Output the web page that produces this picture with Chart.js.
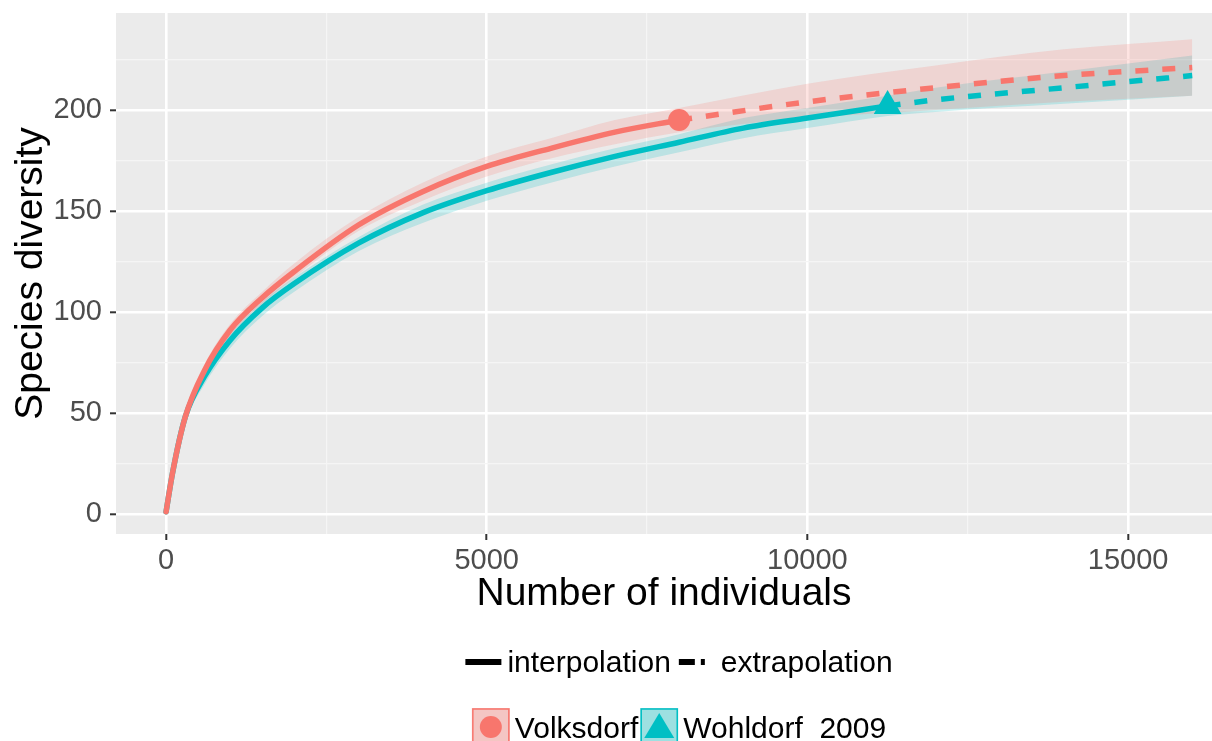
<!DOCTYPE html>
<html>
<head>
<meta charset="utf-8">
<script src="https://cdn.jsdelivr.net/npm/chart.js@4.4.0/dist/chart.umd.min.js"></script>
<style>
  html, body { margin: 0; padding: 0; background: #fff; }
  #chart-container { width: 1212px; height: 741px; }
</style>
</head>
<body>
<div id="chart-container"><canvas id="rarefaction" width="1212" height="741"></canvas></div>
<script>
// Volksdorf: rarefied (interpolated) and extrapolated species counts
const volksInterpN = [1, 100, 300, 600, 1000, 1500, 2000, 3000, 4000, 5000, 6000, 7000, 8000];
const volksInterpS = [1, 20, 48, 71, 91, 107, 120, 143, 159.5, 172, 181, 189, 195];
const volksExtrapN = [8000, 10000, 12000, 14000, 16000];
const volksExtrapS = [195, 204, 211, 217, 221];
const volksCiN = [1, 100, 300, 600, 1000, 1500, 2000, 3000, 4000, 5000, 6000, 7000, 8000, 10000, 12000, 14000, 16000];
const volksLower = [1, 18, 45, 68, 88, 104, 117, 140, 155, 167, 176, 183, 189, 196, 200, 204, 207];
const volksUpper = [1, 22, 51, 74, 94, 110, 124, 147, 164, 177, 186, 195, 201, 213, 222, 230, 235];

// Wohldorf 2009
const wohlInterpN = [1, 100, 300, 600, 1000, 1500, 2000, 3000, 4000, 5000, 6000, 7000, 8000, 9000, 10000, 11250];
const wohlInterpS = [1, 20, 48, 68, 86, 102, 114, 134, 149, 160, 169, 177, 184, 191, 196, 202];
const wohlExtrapN = [11250, 12000, 14000, 16000];
const wohlExtrapS = [202, 205, 211, 217];
const wohlCiN = [1, 100, 300, 600, 1000, 1500, 2000, 3000, 4000, 5000, 6000, 7000, 8000, 9000, 10000, 11250, 12000, 14000, 16000];
const wohlLower = [1, 18, 45, 64, 82, 98, 110, 130, 144, 155, 164, 172, 179, 186, 191, 197, 199, 203, 207];
const wohlUpper = [1, 22, 51, 71, 89, 105, 117, 137, 153, 164, 173, 181, 188, 196, 201, 207, 211, 219, 227];

// observed samples (reference points)
const seriesNames = ['Volksdorf', 'Wohldorf_2009'];
const observedN = [8000, 11250];
const observedS = [195, 202];

const methodLabels = ['interpolation', 'extrapolation'];

const xMajorTicks = [0, 5000, 10000, 15000];
const xMinorTicks = [2500, 7500, 12500];
const yMajorTicks = [0, 50, 100, 150, 200];
const yMinorTicks = [25, 75, 125, 175, 225];

const RED = '#F8766D';
const TEAL = '#00BFC4';
const FONT = "'Liberation Sans', Arial, sans-serif";

const toPoints = (xs, ys) => xs.map((x, i) => ({ x: x, y: ys[i] }));

const gridTicks = (major, minor) => major.concat(minor).sort((a, b) => a - b).map(v => ({ value: v }));

// grey ggplot panel
const panelBackground = {
    id: 'panelBackground',
    beforeDraw(chart) {
        const { ctx, chartArea } = chart;
        ctx.save();
        ctx.fillStyle = '#EBEBEB';
        ctx.fillRect(chartArea.left, chartArea.top, chartArea.right - chartArea.left, chartArea.bottom - chartArea.top);
        ctx.restore();
    }
};

// two-row legend below the x title, centred on the panel like ggplot does
const bottomLegend = {
    id: 'bottomLegend',
    afterDraw(chart) {
        const ctx = chart.ctx;
        const centerX = 679;
        ctx.save();
        ctx.font = '30px ' + FONT;
        ctx.fillStyle = '#000';
        ctx.textBaseline = 'alphabetic';

        // row 1: line types
        const keyW = 36, gap = 6, itemGap = 8;
        const w1 = ctx.measureText(methodLabels[0]).width;
        const w2 = ctx.measureText(methodLabels[1]).width;
        let x = centerX - (keyW * 2 + gap * 2 + itemGap + w1 + w2) / 2;
        const row1 = 672, lineY = 662;
        ctx.strokeStyle = '#000';
        ctx.lineWidth = 6;
        ctx.beginPath();
        ctx.moveTo(x, lineY);
        ctx.lineTo(x + keyW, lineY);
        ctx.stroke();
        x += keyW + gap;
        ctx.fillText(methodLabels[0], x, row1);
        x += w1 + itemGap;
        ctx.setLineDash([16, 6]);
        ctx.beginPath();
        ctx.moveTo(x, lineY);
        ctx.lineTo(x + keyW - 10, lineY);
        ctx.stroke();
        ctx.setLineDash([]);
        x += keyW + gap;
        ctx.fillText(methodLabels[1], x, row1);

        // row 2: sites
        const box = 38, row2 = 738, boxTop = 708;
        const n1 = ctx.measureText(seriesNames[0]).width;
        const n2 = ctx.measureText(seriesNames[1]).width;
        x = centerX - (box * 2 + 5 * 2 + n1 + n2 + 2) / 2;
        const keys = [
            { color: RED, fill: 'rgba(248,118,109,0.35)', shape: 'circle' },
            { color: TEAL, fill: 'rgba(0,191,196,0.35)', shape: 'triangle' }
        ];
        keys.forEach((k, i) => {
            ctx.fillStyle = '#F2F2F2';
            ctx.fillRect(x, boxTop, box, box);
            ctx.fillStyle = k.fill;
            ctx.fillRect(x, boxTop, box, box);
            ctx.strokeStyle = k.color;
            ctx.lineWidth = 1.5;
            ctx.strokeRect(x + 1, boxTop + 1, box - 2, box - 2);
            ctx.fillStyle = k.color;
            const cx = x + box / 2, cy = boxTop + box / 2;
            ctx.beginPath();
            if (k.shape === 'circle') {
                ctx.arc(cx, cy, 11, 0, Math.PI * 2);
            } else {
                ctx.moveTo(cx, cy - 14);
                ctx.lineTo(cx + 15, cy + 11);
                ctx.lineTo(cx - 15, cy + 11);
                ctx.closePath();
            }
            ctx.fill();
            x += box + 5;
            ctx.fillStyle = '#000';
            ctx.fillText(seriesNames[i], x, row2);
            x += (i === 0 ? n1 : n2) + 2;
        });
        ctx.restore();
    }
};

const ctx = document.getElementById('rarefaction').getContext('2d');

const ribbon = (data, color, fill) => ({
    data: data,
    borderWidth: 0,
    pointRadius: 0,
    backgroundColor: color,
    fill: fill,
    order: 10,
    cubicInterpolationMode: 'monotone'
});

const curve = (data, color, dashed) => ({
    data: data,
    borderColor: color,
    borderWidth: 5.5,
    borderDash: dashed ? [13, 14] : [],
    borderCapStyle: dashed ? 'butt' : 'round',
    pointRadius: 0,
    fill: false,
    order: 2,
    cubicInterpolationMode: 'monotone'
});

const isMajor = (list, v) => list.indexOf(v) !== -1;

const config = {
    type: 'line',
    data: {
        datasets: [
            ribbon(toPoints(volksCiN, volksUpper), 'rgba(248,118,109,0.2)', '+1'),
            ribbon(toPoints(volksCiN, volksLower), 'rgba(0,0,0,0)', false),
            ribbon(toPoints(wohlCiN, wohlUpper), 'rgba(0,191,196,0.2)', '+1'),
            ribbon(toPoints(wohlCiN, wohlLower), 'rgba(0,0,0,0)', false),
            curve(toPoints(volksInterpN, volksInterpS), RED, false),
            curve(toPoints(volksExtrapN, volksExtrapS), RED, true),
            curve(toPoints(wohlInterpN, wohlInterpS), TEAL, false),
            curve(toPoints(wohlExtrapN, wohlExtrapS), TEAL, true),
            {
                data: [{ x: observedN[0], y: observedS[0] }],
                pointStyle: 'circle',
                pointRadius: 11,
                backgroundColor: RED,
                borderColor: RED,
                borderWidth: 0,
                showLine: false,
                order: 1
            },
            {
                data: [{ x: observedN[1], y: observedS[1] }],
                pointStyle: 'triangle',
                pointRadius: 16,
                backgroundColor: TEAL,
                borderColor: TEAL,
                borderWidth: 0,
                showLine: false,
                order: 1
            }
        ]
    },
    options: {
        responsive: false,
        animation: false,
        layout: {
            autoPadding: false,
            padding: { top: 13, right: 0, bottom: 123, left: 0 }
        },
        plugins: {
            legend: { display: false },
            tooltip: { enabled: false }
        },
        scales: {
            x: {
                type: 'linear',
                min: -780,
                max: 16308,
                afterBuildTicks: (scale) => { scale.ticks = gridTicks(xMajorTicks, xMinorTicks); },
                afterFit: (scale) => {
                    scale.height = 84;
                    scale.paddingLeft = 0;
                    scale.paddingRight = 0;
                },
                border: { display: false },
                grid: {
                    color: (c) => isMajor(xMajorTicks, c.tick.value) ? '#FFFFFF' : '#F5F5F5',
                    lineWidth: (c) => isMajor(xMajorTicks, c.tick.value) ? 2.6 : 1.2,
                    tickColor: (c) => isMajor(xMajorTicks, c.tick.value) ? '#333333' : 'rgba(0,0,0,0)',
                    tickLength: 6,
                    tickWidth: 2
                },
                ticks: {
                    autoSkip: false,
                    maxRotation: 0,
                    padding: 4,
                    color: '#4D4D4D',
                    font: { family: FONT, size: 29 },
                    callback: (v) => isMajor(xMajorTicks, v) ? String(v) : ''
                },
                title: {
                    display: true,
                    text: 'Number of individuals',
                    color: '#000',
                    font: { family: FONT, size: 39 },
                    padding: { top: 0, bottom: 0 }
                }
            },
            y: {
                min: -10,
                max: 248,
                afterBuildTicks: (scale) => { scale.ticks = gridTicks(yMajorTicks, yMinorTicks); },
                afterFit: (scale) => {
                    scale.width = 116;
                    scale.paddingTop = 0;
                    scale.paddingBottom = 0;
                },
                border: { display: false },
                grid: {
                    color: (c) => isMajor(yMajorTicks, c.tick.value) ? '#FFFFFF' : '#F5F5F5',
                    lineWidth: (c) => isMajor(yMajorTicks, c.tick.value) ? 2.6 : 1.2,
                    tickColor: (c) => isMajor(yMajorTicks, c.tick.value) ? '#333333' : 'rgba(0,0,0,0)',
                    tickLength: 6,
                    tickWidth: 2
                },
                ticks: {
                    autoSkip: false,
                    padding: 8,
                    color: '#4D4D4D',
                    font: { family: FONT, size: 29 },
                    callback: (v) => isMajor(yMajorTicks, v) ? String(v) : ''
                },
                title: {
                    display: true,
                    text: 'Species diversity',
                    color: '#000',
                    font: { family: FONT, size: 39 },
                    padding: { top: 8, bottom: 0 }
                }
            }
        }
    },
    plugins: [panelBackground, bottomLegend]
};

const rarefactionChart = new Chart(ctx, config);
</script>
</body>
</html>
